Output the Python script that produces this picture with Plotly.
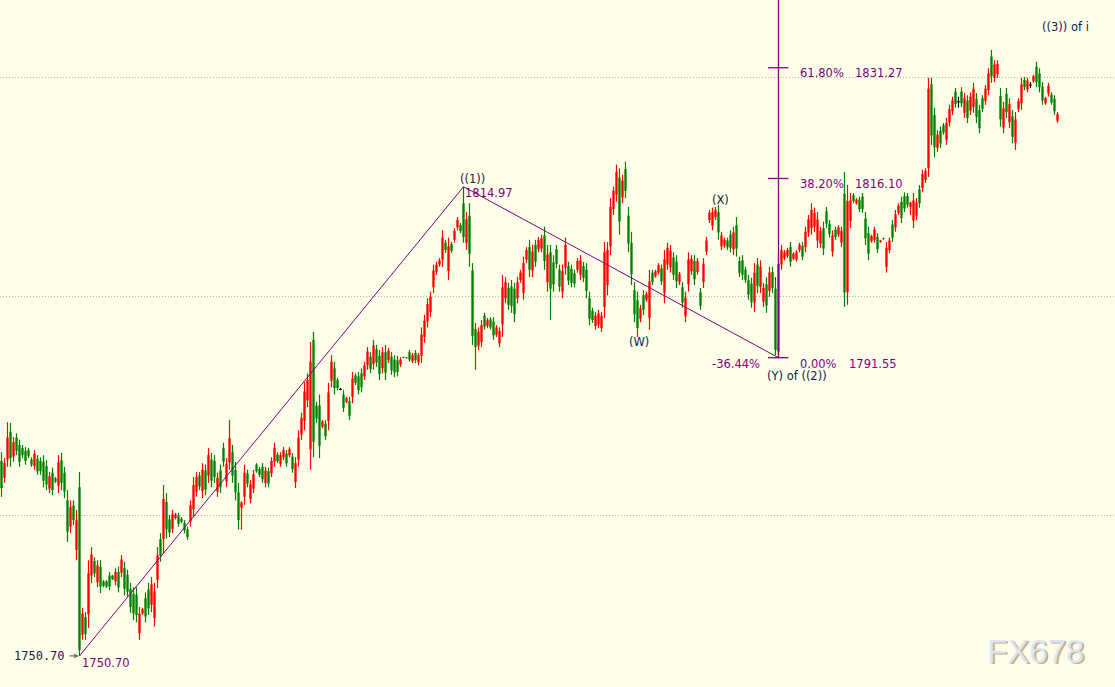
import plotly.graph_objects as go

# ---- OHLC data (bar index = time order) ----
open_ = [
    1777.4, 1775.1, 1777.6, 1781.4, 1778.0, 1780.6, 1779.6, 1779.2, 1778.8, 1778.9,
    1777.6, 1776.7, 1777.7, 1777.4, 1777.3, 1776.7, 1773.6, 1775.8, 1775.0, 1774.0,
    1777.5, 1775.8, 1772.0, 1768.4, 1771.3, 1765.2, 1773.8, 1753.6, 1756.0, 1756.4,
    1761.7, 1763.7, 1760.8, 1762.9, 1760.9, 1760.9, 1761.7, 1761.7, 1760.9, 1762.2,
    1762.1, 1762.7, 1761.8, 1759.9, 1759.2, 1759.1, 1753.8, 1756.5, 1758.6, 1759.8,
    1757.7, 1755.9, 1761.1, 1766.7, 1766.7, 1771.8, 1769.4, 1768.1,
    1769.6, 1769.9, 1769.5, 1768.9, 1768.0, 1769.1, 1770.8, 1773.2, 1775.4, 1773.3,
    1776.1, 1775.4, 1777.6, 1777.4, 1773.2, 1776.1, 1779.2, 1774.6, 1777.2, 1778.6,
    1776.2, 1773.1, 1771.0, 1772.5, 1775.7, 1772.2, 1773.6, 1776.9, 1776.3, 1776.6,
    1774.4, 1776.0, 1775.7, 1777.3, 1778.3, 1777.0, 1777.9, 1778.4, 1778.2, 1778.0,
    1774.5, 1777.6, 1781.0, 1782.9, 1785.7, 1779.0, 1794.0, 1785.0, 1785.0, 1782.1,
    1782.5, 1782.9, 1788.4, 1790.1, 1788.5, 1787.2, 1786.5, 1785.5, 1785.6, 1786.2,
    1789.1,
    1789.0, 1789.4, 1789.0, 1790.5, 1791.7, 1790.7, 1792.7, 1791.8, 1790.1, 1792.3,
    1791.2, 1791.7, 1791.3, 1791.2, 1790.6, 1791.5, 1791.5, 1792.3, 1791.1, 1792.2,
    1790.9, 1791.8, 1794.4, 1796.5, 1797.8, 1801.2, 1803.3, 1804.3, 1805.0, 1807.3,
    1803.4, 1807.1, 1807.7, 1809.4, 1809.7,
    1812.7,
    1807.3, 1811.0, 1803.5, 1795.5, 1793.2, 1793.7, 1797.3, 1795.9, 1796.8, 1796.5,
    1794.7, 1793.5, 1796.1, 1799.7, 1801.1, 1801.3, 1801.0, 1799.7, 1802.2, 1800.4,
    1805.0, 1806.7,
    1803.5, 1807.0, 1806.4, 1806.5, 1808.3, 1801.9, 1806.0, 1804.6, 1806.4, 1803.6,
    1800.6, 1803.9, 1804.1, 1803.7, 1803.1, 1803.6, 1802.9, 1804.1, 1803.6, 1799.7,
    1798.0, 1795.9, 1796.1, 1795.6, 1798.5, 1801.5, 1806.8, 1811.9, 1813.9, 1816.2,
    1813.5, 1817.4, 1811.0, 1807.3, 1800.8, 1799.4, 1796.9, 1800.1, 1799.5, 1797.0,
    1803.2, 1802.7, 1803.2, 1803.8, 1800.4, 1804.3, 1803.9, 1805.3, 1804.7, 1801.9,
    1801.2, 1797.2, 1801.6, 1803.4, 1804.8, 1803.3, 1800.5, 1801.9, 1806.1,
    1810.4, 1809.6, 1810.8, 1811.5, 1806.8, 1806.9, 1807.6, 1808.4, 1806.4, 1809.7,
    1804.8, 1804.9, 1803.6, 1802.2, 1801.7, 1799.1, 1804.3, 1801.3, 1799.2, 1801.6,
    1800.7, 1803.3, 1801.0, 1792.4, 1804.3, 1805.2, 1805.5, 1806.7, 1805.1, 1805.0,
    1806.3, 1806.9, 1806.7, 1808.7, 1809.3, 1809.5, 1807.6, 1807.2, 1809.3, 1811.6,
    1809.9, 1806.1, 1809.1, 1808.4, 1807.3, 1814.0, 1800.5, 1810.3, 1813.8, 1812.7,
    1813.2, 1813.6, 1810.6, 1808.6, 1807.5, 1807.7, 1808.1, 1807.4, 1807.9,
    1804.0, 1806.3, 1809.8, 1809.4, 1811.4, 1812.9, 1813.7, 1813.7, 1812.2, 1810.3,
    1811.0, 1814.6, 1814.8, 1815.9, 1817.5, 1829.0, 1824.8, 1820.3, 1822.6, 1823.4,
    1821.4, 1823.8, 1825.3, 1828.0, 1826.6, 1828.0, 1825.1, 1826.8, 1825.4, 1825.9,
    1827.0, 1825.5, 1827.1, 1826.7, 1828.2, 1832.8, 1829.9, 1830.4, 1827.4, 1823.1,
    1827.7, 1823.8, 1824.6, 1821.0, 1825.6, 1826.4, 1829.6, 1828.3, 1828.9, 1829.4,
    1831.4, 1830.5, 1828.7, 1826.4, 1827.7, 1827.6, 1827.0, 1824.0,
]
high = [
    1778.6, 1777.8, 1782.7, 1782.6, 1780.7, 1781.2, 1780.3, 1779.6, 1779.3, 1779.2,
    1777.9, 1778.9, 1778.2, 1777.9, 1778.2, 1777.5, 1775.9, 1776.5, 1775.2, 1778.2,
    1778.5, 1776.6, 1773.4, 1772.0, 1772.0, 1770.7, 1775.9, 1757.3, 1756.7, 1763.8,
    1765.6, 1764.2, 1763.8, 1763.8, 1761.1, 1761.1, 1762.2, 1761.8, 1762.7, 1762.9,
    1764.5, 1763.6, 1762.5, 1760.7, 1760.1, 1760.1, 1757.4, 1757.3, 1759.4, 1760.7,
    1761.5, 1760.7, 1765.6, 1767.5, 1774.1, 1773.0, 1770.0, 1770.7,
    1770.3, 1770.3, 1769.7, 1769.3, 1768.4, 1772.0, 1775.2, 1775.9, 1775.9, 1777.1,
    1776.9, 1779.2, 1778.5, 1778.2, 1775.8, 1776.9, 1779.9, 1777.8, 1783.0, 1779.6,
    1777.3, 1774.4, 1771.9, 1776.9, 1776.2, 1774.8, 1776.2, 1777.1, 1776.6, 1777.1,
    1776.6, 1776.5, 1777.9, 1779.9, 1778.6, 1778.6, 1779.3, 1778.9, 1779.3, 1778.5,
    1777.9, 1781.6, 1784.0, 1788.2, 1789.4, 1793.7, 1795.1, 1785.5, 1786.5, 1783.0,
    1783.0, 1788.1, 1791.9, 1791.0, 1788.8, 1787.4, 1787.1, 1786.2, 1786.2, 1789.6,
    1789.4,
    1789.6, 1790.1, 1791.0, 1793.0, 1792.3, 1794.0, 1793.3, 1792.6, 1793.0, 1793.3,
    1792.9, 1792.3, 1791.9, 1791.8, 1791.6, 1791.7, 1791.6, 1792.6, 1792.2, 1792.6,
    1792.2, 1795.7, 1797.4, 1799.7, 1800.6, 1804.3, 1804.7, 1805.2, 1809.0, 1807.7,
    1808.0, 1807.4, 1809.3, 1810.8, 1810.0,
    1814.97,
    1811.5, 1812.7, 1804.5, 1796.3, 1795.7, 1796.7, 1797.7, 1797.0, 1797.1, 1797.1,
    1796.0, 1795.7, 1802.9, 1802.6, 1801.8, 1802.2, 1801.8, 1802.6, 1803.6, 1805.4,
    1806.7, 1807.7,
    1807.0, 1807.7, 1808.1, 1808.4, 1809.5, 1807.0, 1807.0, 1805.6, 1807.0, 1804.3,
    1804.3, 1808.0, 1804.7, 1804.3, 1803.6, 1805.2, 1805.6, 1804.7, 1804.5, 1800.6,
    1798.4, 1797.8, 1798.1, 1797.8, 1807.4, 1807.4, 1813.4, 1815.0, 1818.0, 1817.5,
    1816.6, 1818.4, 1812.2, 1808.8, 1801.9, 1800.6, 1798.8, 1800.8, 1800.6, 1803.6,
    1803.6, 1803.6, 1804.5, 1804.3, 1806.3, 1807.3, 1807.0, 1806.0, 1805.6, 1803.3,
    1801.9, 1800.6, 1806.0, 1805.6, 1805.6, 1805.2, 1801.1, 1805.2, 1808.1,
    1811.8, 1812.1, 1812.2, 1812.5, 1808.8, 1808.0, 1808.0, 1809.0, 1809.5, 1810.8,
    1805.4, 1805.6, 1804.0, 1802.9, 1802.5, 1804.5, 1805.2, 1804.9, 1801.8, 1802.6,
    1804.0, 1804.0, 1802.6, 1805.4, 1807.0, 1806.3, 1806.6, 1807.4, 1806.0, 1806.3,
    1807.3, 1807.4, 1809.5, 1811.1, 1812.7, 1812.1, 1811.5, 1809.5, 1810.2, 1812.2,
    1810.4, 1809.0, 1809.5, 1809.7, 1809.5, 1817.0, 1815.2, 1814.1, 1814.1, 1813.4,
    1813.6, 1814.1, 1811.5, 1809.5, 1808.4, 1809.5, 1808.6, 1807.7, 1808.0,
    1807.4, 1808.0, 1810.4, 1811.8, 1812.7, 1813.6, 1814.2, 1814.1, 1812.9, 1814.1,
    1813.4, 1815.2, 1817.3, 1817.5, 1829.9, 1829.9, 1825.8, 1822.7, 1823.2, 1823.7,
    1824.4, 1826.2, 1827.3, 1828.5, 1827.3, 1828.6, 1827.8, 1827.5, 1827.9, 1829.2,
    1827.8, 1826.2, 1827.5, 1828.9, 1831.2, 1833.7, 1832.3, 1832.3, 1828.5, 1826.6,
    1828.5, 1827.1, 1825.5, 1825.2, 1827.1, 1829.9, 1830.0, 1829.9, 1829.3, 1830.3,
    1832.1, 1831.2, 1829.3, 1827.3, 1829.2, 1827.9, 1827.5, 1825.2,
]
low = [
    1772.5, 1774.4, 1776.6, 1776.6, 1777.3, 1778.2, 1776.6, 1777.8, 1776.9, 1777.8,
    1776.6, 1776.2, 1775.5, 1775.5, 1773.8, 1773.4, 1773.0, 1772.7, 1774.4, 1773.0,
    1773.4, 1772.3, 1766.3, 1767.5, 1768.6, 1763.8, 1750.7, 1752.9, 1752.9, 1754.5,
    1760.7, 1761.5, 1760.1, 1759.3, 1760.1, 1760.0, 1759.7, 1761.1, 1760.4, 1759.4,
    1761.5, 1759.0, 1758.8, 1756.6, 1755.6, 1755.3, 1752.9, 1756.3, 1755.3, 1756.3,
    1756.7, 1754.7, 1760.0, 1763.6, 1764.8, 1766.8, 1767.0, 1767.5,
    1769.4, 1768.4, 1768.9, 1767.5, 1766.6, 1768.4, 1769.7, 1772.5, 1773.4, 1772.3,
    1772.7, 1774.4, 1773.8, 1774.4, 1772.5, 1773.0, 1776.6, 1773.8, 1776.2, 1774.4,
    1772.0, 1768.0, 1768.0, 1771.4, 1773.8, 1771.6, 1773.0, 1775.8, 1775.2, 1774.4,
    1773.8, 1773.8, 1775.2, 1776.6, 1777.1, 1776.6, 1777.5, 1776.6, 1777.9, 1775.8,
    1773.7, 1776.6, 1780.3, 1781.6, 1784.8, 1776.2, 1777.9, 1782.6, 1777.8, 1781.9,
    1780.3, 1781.6, 1787.5, 1786.5, 1787.1, 1787.1, 1784.1, 1785.3, 1783.0, 1785.3,
    1787.8,
    1786.5, 1786.8, 1788.5, 1789.9, 1789.4, 1789.9, 1790.3, 1788.5, 1789.4, 1788.5,
    1790.8, 1789.2, 1788.9, 1789.0, 1790.3, 1791.5, 1791.4, 1791.0, 1790.8, 1790.8,
    1790.5, 1790.8, 1793.6, 1795.7, 1797.1, 1800.4, 1802.9, 1804.0, 1804.0, 1805.9,
    1802.2, 1805.9, 1807.3, 1809.0, 1808.6,
    1807.3,
    1806.3, 1804.0, 1793.3, 1789.9, 1792.6, 1793.0, 1795.4, 1795.6, 1795.4, 1794.0,
    1794.4, 1793.0, 1794.4, 1799.0, 1798.1, 1797.7, 1796.4, 1799.0, 1801.8, 1799.5,
    1804.5, 1802.6,
    1802.6, 1804.0, 1806.0, 1806.0, 1803.6, 1800.6, 1796.7, 1800.6, 1803.8, 1800.6,
    1799.7, 1802.9, 1801.5, 1801.2, 1801.2, 1803.2, 1802.2, 1801.9, 1799.7, 1796.0,
    1796.3, 1795.4, 1795.6, 1795.1, 1797.0, 1800.1, 1805.6, 1811.1, 1812.9, 1808.4,
    1812.7, 1813.4, 1806.0, 1801.5, 1796.4, 1794.4, 1796.4, 1797.4, 1799.2, 1795.4,
    1801.5, 1802.5, 1802.9, 1801.5, 1799.0, 1803.6, 1803.2, 1802.2, 1801.1, 1801.5,
    1798.4, 1796.4, 1800.6, 1802.9, 1801.5, 1802.9, 1798.1, 1801.1, 1805.6,
    1810.0, 1809.0, 1810.4, 1807.7, 1806.3, 1806.6, 1806.3, 1806.0, 1805.6, 1805.4,
    1802.6, 1802.2, 1801.8, 1799.5, 1798.4, 1797.8, 1800.4, 1800.4, 1798.5, 1797.7,
    1799.9, 1800.4, 1791.9, 1791.55, 1803.6, 1804.9, 1805.2, 1804.0, 1804.9, 1804.7,
    1806.0, 1804.9, 1806.0, 1808.1, 1808.4, 1808.8, 1806.6, 1806.6, 1805.6, 1809.3,
    1808.0, 1805.4, 1807.7, 1808.1, 1806.7, 1798.5, 1798.8, 1809.3, 1812.7, 1812.5,
    1811.5, 1811.4, 1807.0, 1804.9, 1807.3, 1807.3, 1805.9, 1807.3, 1807.7,
    1803.2, 1805.9, 1807.4, 1808.8, 1811.1, 1810.0, 1811.5, 1812.1, 1811.1, 1809.3,
    1810.4, 1812.1, 1814.2, 1815.5, 1816.3, 1820.7, 1819.0, 1819.7, 1820.3, 1822.1,
    1820.7, 1823.2, 1824.8, 1825.8, 1825.8, 1825.9, 1824.4, 1823.7, 1824.8, 1825.1,
    1823.7, 1822.3, 1825.2, 1826.2, 1827.5, 1829.2, 1829.3, 1829.9, 1823.2, 1822.3,
    1824.4, 1823.0, 1820.9, 1820.0, 1825.2, 1825.5, 1828.2, 1827.9, 1828.5, 1829.2,
    1828.6, 1827.9, 1826.2, 1826.2, 1827.3, 1826.2, 1824.8, 1823.7,
]
close = [
    1773.7, 1777.1, 1780.6, 1777.8, 1780.0, 1778.8, 1777.3, 1778.2, 1777.4, 1778.1,
    1776.9, 1778.4, 1776.0, 1776.0, 1774.7, 1774.2, 1775.3, 1773.4, 1774.6, 1777.2,
    1774.4, 1773.2, 1767.7, 1771.1, 1769.3, 1769.3, 1751.5, 1756.5, 1753.7, 1762.0,
    1764.6, 1762.0, 1763.1, 1760.2, 1760.3, 1760.2, 1760.2, 1761.2, 1762.2, 1760.1,
    1763.9, 1759.9, 1759.5, 1757.4, 1756.5, 1756.3, 1756.5, 1757.1, 1756.1, 1757.2,
    1760.5, 1759.5, 1764.5, 1764.4, 1772.2, 1768.0, 1767.6, 1770.1,
    1770.1, 1768.8, 1769.1, 1767.9, 1767.0, 1771.3, 1774.1, 1775.2, 1773.9, 1776.2,
    1773.5, 1778.2, 1774.7, 1775.2, 1775.1, 1773.8, 1777.3, 1777.0, 1780.5, 1775.4,
    1773.1, 1769.3, 1771.7, 1775.8, 1774.3, 1774.2, 1775.6, 1776.0, 1775.5, 1774.9,
    1776.1, 1774.3, 1777.4, 1779.2, 1777.4, 1778.2, 1778.9, 1777.1, 1779.0, 1776.3,
    1777.1, 1780.6, 1783.3, 1786.9, 1788.5, 1791.0, 1780.0, 1783.2, 1779.5, 1782.8,
    1780.8, 1786.8, 1791.0, 1787.4, 1787.4, 1787.2, 1784.7, 1786.0, 1783.6, 1788.7,
    1788.1,
    1787.1, 1787.5, 1790.5, 1792.4, 1790.0, 1793.2, 1790.9, 1789.3, 1792.3, 1789.5,
    1792.5, 1789.8, 1789.5, 1789.6, 1791.3, 1791.6, 1791.6, 1791.3, 1791.9, 1791.2,
    1791.9, 1794.7, 1796.6, 1798.9, 1799.9, 1803.5, 1804.3, 1804.9, 1808.0, 1806.3,
    1806.8, 1806.2, 1808.9, 1810.4, 1808.9,
    1808.1,
    1810.5, 1805.8, 1794.5, 1793.0, 1795.1, 1796.0, 1795.8, 1796.7, 1795.7, 1794.6,
    1795.7, 1795.2, 1801.2, 1801.9, 1798.8, 1798.6, 1797.5, 1801.9, 1803.2, 1804.5,
    1806.3, 1803.6,
    1806.1, 1804.7, 1807.7, 1807.9, 1804.8, 1805.7, 1801.0, 1801.6, 1804.4, 1801.3,
    1803.4, 1807.0, 1802.1, 1801.8, 1801.7, 1804.8, 1804.9, 1802.5, 1800.7, 1796.9,
    1796.7, 1797.3, 1797.6, 1797.3, 1806.0, 1806.3, 1812.2, 1814.4, 1817.0, 1810.2,
    1815.8, 1814.4, 1807.2, 1803.0, 1797.5, 1795.6, 1798.3, 1798.1, 1800.3, 1802.0,
    1801.9, 1803.4, 1804.2, 1802.0, 1805.0, 1806.6, 1806.2, 1802.9, 1802.0, 1803.0,
    1799.1, 1799.8, 1805.0, 1805.1, 1802.3, 1804.8, 1798.7, 1804.4, 1807.6,
    1811.4, 1811.5, 1811.8, 1808.7, 1808.3, 1807.7, 1806.7, 1806.6, 1808.7, 1806.5,
    1803.2, 1802.9, 1802.2, 1800.2, 1799.2, 1803.2, 1801.4, 1804.0, 1801.1, 1798.7,
    1803.2, 1801.1, 1792.6, 1804.4, 1806.3, 1806.0, 1806.3, 1804.7, 1805.8, 1806.0,
    1807.0, 1805.4, 1808.8, 1810.5, 1811.8, 1811.4, 1810.5, 1808.9, 1806.5, 1809.9,
    1808.5, 1808.3, 1808.1, 1809.4, 1808.9, 1800.5, 1813.0, 1813.1, 1813.0, 1813.2,
    1811.9, 1811.9, 1807.9, 1805.8, 1808.2, 1809.1, 1806.4, 1807.6, 1807.8,
    1806.6, 1807.6, 1808.0, 1811.2, 1812.4, 1810.7, 1812.0, 1812.5, 1812.8, 1813.1,
    1812.8, 1812.7, 1816.7, 1817.1, 1828.4, 1822.0, 1820.4, 1822.1, 1820.9, 1822.4,
    1823.7, 1825.6, 1826.8, 1826.3, 1826.6, 1826.4, 1827.1, 1824.4, 1827.3, 1828.4,
    1824.5, 1823.0, 1825.6, 1828.4, 1830.5, 1830.1, 1831.7, 1831.8, 1824.2, 1825.7,
    1825.2, 1826.3, 1821.8, 1824.2, 1826.7, 1829.0, 1828.6, 1829.5, 1828.9, 1830.1,
    1829.3, 1828.6, 1826.8, 1827.1, 1828.8, 1826.5, 1825.3, 1824.9,
]

# Elliott-wave anchor points (bar index, price)
wave_low_idx, wave_low = 26, 1750.70
wave1_idx, wave1_high = 154, 1814.97
waveY_idx, waveY_low = 259, 1791.55
fib_levels = [0.0, 38.2, 61.8]
fib_prices = [1791.55, 1816.10, 1831.27]
grid_levels = [1770, 1800, 1830]

RED, GREEN, BLACK = "#FF0000", "#008000", "#000000"
PURPLE = "#800080"
NAVY = "#0F2546"
BG = "#FFFFE9"

n = len(open_)
wick = {RED: ([], []), GREEN: ([], []), BLACK: ([], [])}
body = {RED: ([], []), GREEN: ([], []), BLACK: ([], [])}
for i in range(n):
    o, h, l, c = open_[i], high[i], low[i], close[i]
    col = RED if c > o else (GREEN if c < o else BLACK)
    wx, wy = wick[col]
    wx += [i, i, None]
    wy += [l, h, None]
    bx, by = body[col]
    if c != o:
        bx += [i, i, None]
        by += [min(o, c), max(o, c), None]
    else:
        bx += [i - 0.45, i + 0.45, None]
        by += [o, o, None]

fig = go.Figure()
for col in (GREEN, RED, BLACK):
    fig.add_trace(go.Scatter(x=wick[col][0], y=wick[col][1], mode="lines",
                             line=dict(color=col, width=1.2), hoverinfo="skip",
                             showlegend=False))
    fig.add_trace(go.Scatter(x=body[col][0], y=body[col][1], mode="lines",
                             line=dict(color=col, width=1 if col == BLACK else 2.3),
                             hoverinfo="skip", showlegend=False))

YMAX, YMIN = 1840.55, 1746.44
shapes = [
    dict(type="line", x0=wave_low_idx, y0=wave_low, x1=wave1_idx, y1=wave1_high,
         line=dict(color=PURPLE, width=1)),
    dict(type="line", x0=wave1_idx, y0=wave1_high, x1=waveY_idx, y1=waveY_low,
         line=dict(color=PURPLE, width=1)),
    dict(type="line", x0=waveY_idx, y0=waveY_low, x1=waveY_idx, y1=YMAX,
         line=dict(color=PURPLE, width=1.3)),
]
for p in fib_prices:
    shapes.append(dict(type="line", x0=255.5, x1=262.3, y0=p, y1=p,
                       line=dict(color=PURPLE, width=1.3)))

LBL = dict(family="DejaVu Sans", size=11.5)


def txt(x, y, s, color, xanchor="left", font=None):
    f = dict(LBL) if font is None else dict(font)
    f["color"] = color
    return dict(x=x, y=y, text=s, showarrow=False, xanchor=xanchor,
                yanchor="middle", font=f)


annotations = [
    txt(265.5, 1830.55, "61.80%", PURPLE),
    txt(283.8, 1830.55, "1831.27", PURPLE),
    txt(265.5, 1815.34, "38.20%", PURPLE),
    txt(283.8, 1815.34, "1816.10", PURPLE),
    txt(236.2, 1790.68, "-36.44%", PURPLE),
    txt(265.5, 1790.68, "0.00%", PURPLE),
    txt(281.8, 1790.68, "1791.55", PURPLE),
    txt(152.2, 1816.03, "((1))", NAVY),
    txt(153.8, 1814.11, "1814.97", PURPLE),
    txt(208.5, 1793.70, "(W)", NAVY),
    txt(236.2, 1813.15, "(X)", NAVY),
    txt(254.5, 1789.05, "(Y) of ((2))", NAVY),
    txt(346.2, 1836.85, "((3)) of i", NAVY),
    txt(21.8, 1750.68, "1750.70", NAVY, xanchor="right",
        font=dict(family="DejaVu Sans Mono", size=12)),
    txt(26.2, 1749.72, "1750.70", PURPLE),
    dict(x=wave_low_idx - 0.2, y=wave_low, text="", showarrow=True, ax=-11, ay=0,
         arrowhead=2, arrowsize=0.8, arrowwidth=1.2, arrowcolor="#707070"),
    dict(xref="paper", yref="paper", x=0.9291, y=0.0524, text="FX678",
         showarrow=False, xanchor="center", yanchor="middle", xshift=1.5,
         yshift=-1.5, font=dict(family="Liberation Sans", size=33, color="#C9AE8A")),
    dict(xref="paper", yref="paper", x=0.9291, y=0.0524, text="FX678",
         showarrow=False, xanchor="center", yanchor="middle",
         font=dict(family="Liberation Sans", size=33, color="#DCE6F3")),
]

fig.update_layout(
    width=1115, height=687,
    margin=dict(l=0, r=0, t=0, b=0),
    paper_bgcolor=BG, plot_bgcolor=BG,
    showlegend=False,
    xaxis=dict(range=[-0.5, 371.17], visible=False, fixedrange=True),
    yaxis=dict(range=[YMIN, YMAX], tickvals=grid_levels, showticklabels=False,
               showgrid=True, gridcolor="#B4B4A4", griddash="1px,2px", gridwidth=1,
               zeroline=False, showline=False, ticks="", fixedrange=True),
    shapes=shapes,
    annotations=annotations,
)

fig.write_html("out.html", config={"displayModeBar": False},
               post_script="document.body.style.margin='0';document.body.style.overflow='hidden';")
